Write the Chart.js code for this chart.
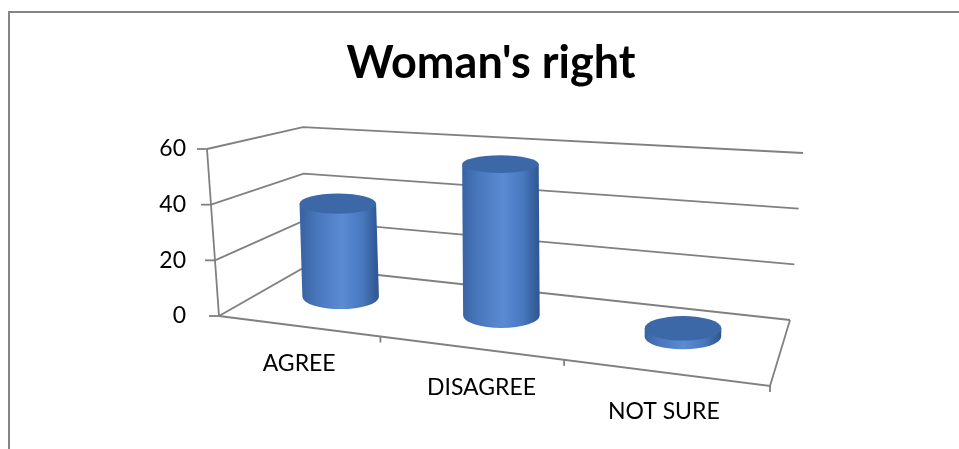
<!DOCTYPE html>
<html>
<head>
<meta charset="utf-8">
<script src="https://cdn.jsdelivr.net/npm/chart.js@4/dist/chart.umd.min.js"></script>
<style>
  html, body { margin: 0; padding: 0; background: #fff; overflow: hidden; }
  #frame {
    position: absolute; left: 8px; top: 11px; width: 1000px; height: 500px;
    border-left: 2px solid #858585; border-top: 2px solid #858585;
  }
  #chart { position: absolute; left: 11px; top: 13px; }
</style>
</head>
<body>
<div id="frame"></div>
<canvas id="chart" width="960" height="436"></canvas>
<script>
const categories = ['AGREE', 'DISAGREE', 'NOT SURE'];
const responses = [36, 56, 3];
const yTicks = [0, 20, 40, 60];

const lineColor = '#808080';

// excel-ish 3d box: floor corners relative to the chart area, k = height factor, s = lean
function makeView(chart) {
    const a = chart.chartArea;
    const y = chart.scales.y;
    const c = {
        f0: {x: a.left + 11, y: a.bottom, k: 1, s: -0.072},
        f1: {x: a.right + 15, y: a.bottom + 70, k: 1.11, s: -0.03},
        b0: {x: a.left + 97, y: a.bottom - 49, k: 0.838, s: -0.012},
        b1: {x: a.right + 35, y: a.bottom + 4, k: 1, s: 0.078}
    };
    const lerp = (p, q, t) => p + (q - p) * t;
    const mix = (key, u, d) => lerp(lerp(c.f0[key], c.f1[key], u), lerp(c.b0[key], c.b1[key], u), d);
    return function (u, d, v) {
        const w = 0.8185 * u + 0.1815 * u * u;
        const h = y.getPixelForValue(yTicks[0]) - y.getPixelForValue(v);
        return {x: mix('x', w, d) + mix('s', w, d) * h, y: mix('y', w, d) - mix('k', w, d) * h};
    };
}

function line(ctx, pts) {
    ctx.beginPath();
    ctx.moveTo(pts[0].x, pts[0].y);
    for (let i = 1; i < pts.length; i++) ctx.lineTo(pts[i].x, pts[i].y);
    ctx.stroke();
}

const cylinders = {
    id: 'cylinders',
    beforeDatasetsDraw(chart) {
        const ctx = chart.ctx;
        const a = chart.chartArea;
        const xs = chart.scales.x;
        const P = makeView(chart);
        const top = yTicks[yTicks.length - 1];

        ctx.save();
        ctx.strokeStyle = lineColor;
        ctx.lineWidth = 1.8;

        // walls
        yTicks.forEach(v => {
            line(ctx, [P(0, 0, v), P(0, 1, v), P(1, 1, v)]);
            const f = P(0, 0, v);
            line(ctx, [{x: f.x - 10, y: f.y}, f]);
        });
        line(ctx, [P(0, 0, 0), P(0, 0, top)]);
        // floor
        line(ctx, [P(0, 0, 0), P(1, 0, 0), P(1, 1, 0)]);
        for (let i = 1; i <= categories.length; i++) {
            const p = P(i / categories.length, 0, 0);
            line(ctx, [p, {x: p.x, y: p.y + 6}]);
        }

        // bars as cylinders
        const meta = chart.getDatasetMeta(0);
        meta.data.forEach((bar, i) => {
            const u = (xs.getPixelForValue(i) - a.left) / (a.right - a.left);
            const v = responses[i];
            const b = P(u, 0.57, 0);
            const t = P(u, 0.57, v);
            const rx = bar.width / 2;
            const ryB = 12.5;
            const ryT = 12.5 - 4 * v / top;

            const g = ctx.createLinearGradient(b.x - rx, 0, b.x + rx, 0);
            g.addColorStop(0, '#3a64a3');
            g.addColorStop(0.18, '#4876bb');
            g.addColorStop(0.52, '#5a8bd3');
            g.addColorStop(0.78, '#4878be');
            g.addColorStop(1, '#2e558f');
            ctx.fillStyle = g;
            ctx.beginPath();
            ctx.moveTo(t.x - rx, t.y);
            ctx.lineTo(b.x - rx, b.y);
            ctx.ellipse(b.x, b.y, rx, ryB, 0, Math.PI, 0, true);
            ctx.lineTo(t.x + rx, t.y);
            ctx.closePath();
            ctx.fill();

            ctx.fillStyle = '#3d68a8';
            ctx.beginPath();
            ctx.ellipse(t.x, t.y, rx, ryT, 0, 0, Math.PI * 2);
            ctx.fill();
        });
        ctx.restore();
        return false;
    }
};

new Chart(document.getElementById('chart'), {
    type: 'bar',
    data: {
        labels: categories,
        datasets: [{
            data: responses,
            backgroundColor: '#4f81bd',
            barPercentage: 0.42,
            categoryPercentage: 1
        }]
    },
    options: {
        responsive: false,
        animation: false,
        devicePixelRatio: 1,
        plugins: {
            legend: {display: false},
            tooltip: {enabled: false},
            title: {
                display: true,
                text: "Woman's right",
                color: '#000',
                font: {family: 'Lato', size: 45, weight: 'bold'},
                padding: {top: 23.2, bottom: 58.8}
            }
        },
        scales: {
            x: {
                grid: {display: false, drawTicks: false},
                border: {display: false},
                ticks: {
                    color: '#000',
                    font: {family: 'Lato', size: 23, lineHeight: 1.06},
                    padding: 35,
                    maxRotation: 0,
                    autoSkip: false,
                    callback: (val, i) => Array(i).fill('').concat(categories[i])
                },
                afterFit: s => { s.height = 133; }
            },
            y: {
                min: yTicks[0],
                max: yTicks[yTicks.length - 1],
                grid: {display: false, drawTicks: false},
                border: {display: false},
                ticks: {
                    stepSize: yTicks[1] - yTicks[0],
                    color: '#000',
                    font: {family: 'Lato', size: 23},
                    padding: 22
                },
                afterFit: s => { s.width = 197; }
            },
            yR: {
                position: 'right',
                grid: {display: false},
                border: {display: false},
                ticks: {display: false},
                afterFit: s => { s.width = 216; }
            }
        }
    },
    plugins: [cylinders]
});
</script>
</body>
</html>
